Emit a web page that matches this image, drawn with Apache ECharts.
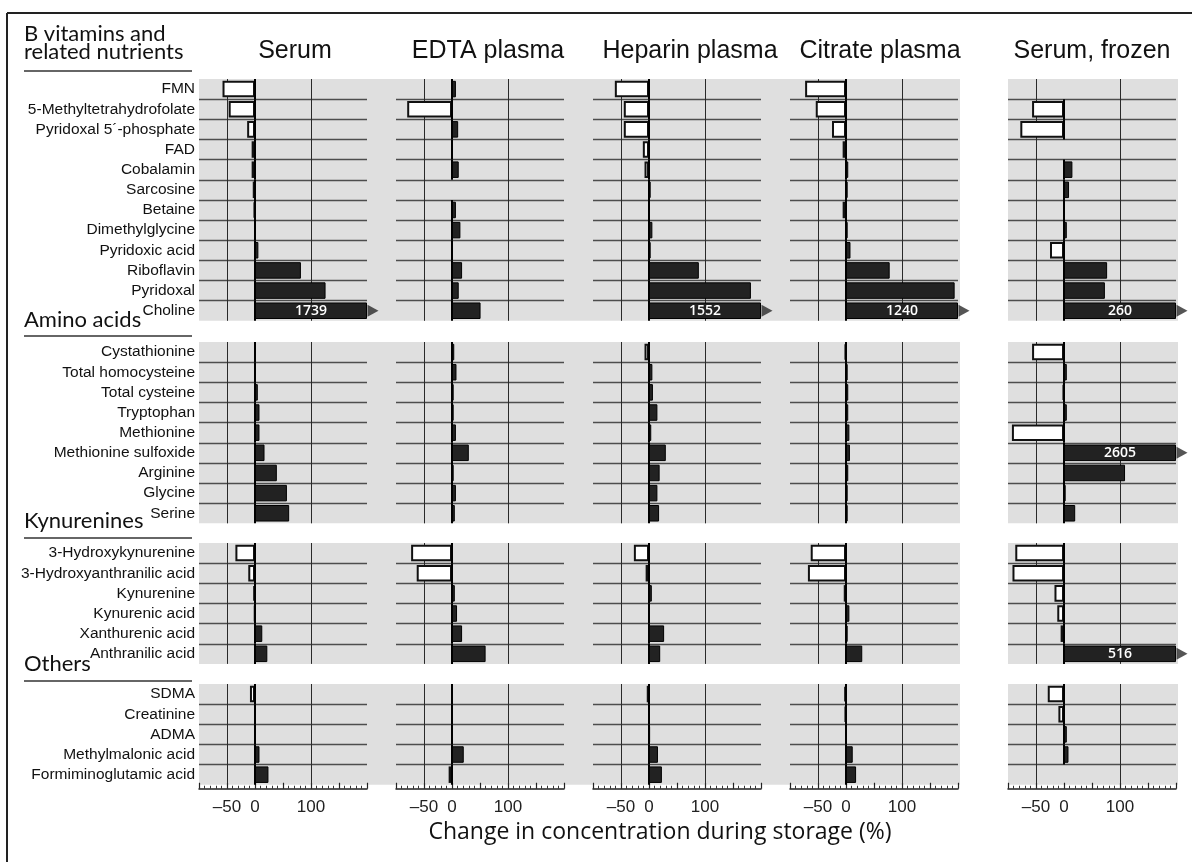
<!DOCTYPE html>
<html><head><meta charset="utf-8">
<script src="https://cdn.jsdelivr.net/npm/echarts@6/dist/echarts.min.js"></script>
<style>html,body{margin:0;padding:0;background:#fff}#c{width:1192px;height:862px}</style>
</head><body><div id="c"></div>
<script>
// ---------- data ----------
const columnTitles = ['Serum', 'EDTA plasma', 'Heparin plasma', 'Citrate plasma', 'Serum, frozen'];
const groupTitles = [['B vitamins and', 'related nutrients'], ['Amino acids'], ['Kynurenines'], ['Others']];
const axisTitle = 'Change in concentration during storage (%)';
const xTickLabels = [-50, 0, 100];

const catB = ['FMN', '5-Methyltetrahydrofolate', 'Pyridoxal 5\u00B4-phosphate', 'FAD', 'Cobalamin', 'Sarcosine', 'Betaine', 'Dimethylglycine', 'Pyridoxic acid', 'Riboflavin', 'Pyridoxal', 'Choline'];
const serumB   = [-58, -47, -14, -6, -6, -4, -2, 0.5, 6, 82, 126, 1739];
const edtaB    = [7, -80, 11, 0.5, 12, null, 7, 15, 1, 18, 12, 51];
const heparinB = [-61, -45, -45, -11, -8, 3, 1, 6, 3, 89, 182, 1552];
const citrateB = [-73, -54, -25, -6, 4, 3, -6, 3, 8, 78, 194, 1240];
const frozenB  = [null, -57, -78, null, 15, 9, 1, 5, -25, 77, 73, 260];

const catA = ['Cystathionine', 'Total homocysteine', 'Total cysteine', 'Tryptophan', 'Methionine', 'Methionine sulfoxide', 'Arginine', 'Glycine', 'Serine'];
const serumA   = [0.5, 1, 5, 8, 8, 17, 39, 57, 61];
const edtaA    = [4, 8, 3, 3, 7, 30, 3, 7, 5];
const heparinA = [-8, 6, 7, 15, 4, 30, 19, 15, 18];
const citrateA = [-2, 3, 4, 4, 6, 7, 4, 3, 3];
const frozenA  = [-57, 5, -2, 5, -93, 2605, 109, 3, 20];

const catK = ['3-Hydroxykynurenine', '3-Hydroxyanthranilic acid', 'Kynurenine', 'Kynurenic acid', 'Xanthurenic acid', 'Anthranilic acid'];
const serumK   = [-35, -12, -3, -1, 13, 22];
const edtaK    = [-73, -63, 5, 9, 18, 60];
const heparinK = [-27, -6, 5, 0.5, 27, 20];
const citrateK = [-63, -68, -4, 6, 3, 29];
const frozenK  = [-87, -92, -17, -12, -6, 516];

const catO = ['SDMA', 'Creatinine', 'ADMA', 'Methylmalonic acid', 'Formiminoglutamic acid'];
const serumO   = [-9, 0.5, 0.5, 8, 24];
const edtaO    = [0.5, 0.5, 0.5, 21, -6];
const heparinO = [-4, 0.5, 2, 16, 23];
const citrateO = [-3, -2, 0.5, 12, 18];
const frozenO  = [-29, -10, 5, 8, null];

// ---------- layout ----------
const AX_MIN = -100, AX_MAX = 200;
const colLeft = [199, 396, 593, 790, 1008];
const colW = 168;
const groupTop = [79, 342, 543, 684];
const rowH = 20.15;
const headBase = [[45, 63], [331], [532], [675]];
const headLine = [71, 336, 538, 681];
const titleCenters = [295, 488, 690, 880, 1092];

const groups = [
  { cats: catB, values: [serumB, edtaB, heparinB, citrateB, frozenB] },
  { cats: catA, values: [serumA, edtaA, heparinA, citrateA, frozenA] },
  { cats: catK, values: [serumK, edtaK, heparinK, citrateK, frozenK] },
  { cats: catO, values: [serumO, edtaO, heparinO, citrateO, frozenO] }
];

const grids = [], xAxes = [], yAxes = [], series = [], graphics = [];
const LABEL_FONT = 'Liberation Sans, Arial, sans-serif';
const MYRIAD = 'Lato, Open Sans, sans-serif';
const WIDE = 'Open Sans, Noto Sans, sans-serif';

groups.forEach((g, gi) => {
  const n = g.cats.length;
  const isLast = gi === groups.length - 1;
  const h = n * rowH;
  // gray backgrounds
  graphics.push({ type: 'rect', z: -10, shape: { x: colLeft[0], y: groupTop[gi], width: colLeft[3] + colW + 2 - colLeft[0], height: h }, style: { fill: '#dfdfdf' } });
  graphics.push({ type: 'rect', z: -10, shape: { x: colLeft[4], y: groupTop[gi], width: colW + 2, height: h }, style: { fill: '#dfdfdf' } });
  g.values.forEach((vals, ci) => {
    const idx = grids.length;
    grids.push({ left: colLeft[ci], top: groupTop[gi], width: colW, height: h, containLabel: false, outerBoundsMode: 'none', show: false });
    xAxes.push({
      type: 'value', gridIndex: idx, min: AX_MIN, max: AX_MAX, interval: 50,
      show: isLast, offset: 4,
      axisLine: { show: true, lineStyle: { color: '#222', width: 1.5 } },
      axisTick: { show: true, inside: true, length: 6, lineStyle: { color: '#222', width: 1.2 } },
      minorTick: { show: true, splitNumber: 5, length: 3, lineStyle: { color: '#333', width: 1 } },
      axisLabel: {
        show: true, margin: 10, fontSize: 17, color: '#222', fontFamily: LABEL_FONT,
        formatter: v => xTickLabels.indexOf(v) >= 0 ? String(v).replace('-', '\u2013') : ''
      },
      splitLine: { show: false }
    });
    yAxes.push({
      type: 'category', gridIndex: idx, data: g.cats, inverse: true,
      axisLine: { show: false }, axisTick: { show: false },
      axisLabel: { show: ci === 0, interval: 0, fontSize: 15.5, color: '#111', fontFamily: LABEL_FONT, margin: 4 },
      splitLine: { show: true, interval: 0, showMinLine: false, showMaxLine: false, lineStyle: { color: '#4d4d4d', width: 1.3 } }
    });
    // reference lines at -50 and 100 (behind bars)
    series.push({
      type: 'line', xAxisIndex: idx, yAxisIndex: idx, data: [], z: 1, silent: true,
      markLine: {
        silent: true, z: 1, symbol: ['none', 'none'], label: { show: false },
        lineStyle: { color: '#2a2a2a', width: 1, type: 'solid' },
        data: [{ xAxis: xTickLabels[0] }, { xAxis: xTickLabels[2] }]
      }
    });
    // bars
    series.push({
      type: 'bar', xAxisIndex: idx, yAxisIndex: idx, barWidth: '82%', z: 3, silent: true,
      animation: false,
      data: vals.map(v => {
        if (v === null) return { value: null };
        const clipped = v > AX_MAX;
        return {
          value: Math.min(v, AX_MAX), raw: v,
          itemStyle: v >= 0
            ? { color: '#222', borderColor: '#000', borderWidth: 1 }
            : { color: '#ffffff', borderColor: '#111', borderWidth: 2 },
          label: clipped ? {
            show: true, position: 'inside', color: '#fff', fontSize: 14,
            fontFamily: WIDE, fontWeight: 600, formatter: p => String(p.data.raw)
          } : { show: false }
        };
      })
    });
    // arrows for off-scale values
    const overs = [];
    vals.forEach((v, i) => { if (v !== null && v > AX_MAX) overs.push([AX_MAX, i]); });
    series.push({
      type: 'scatter', xAxisIndex: idx, yAxisIndex: idx, data: overs, clip: false, z: 4,
      symbol: 'triangle', symbolSize: [12, 11], symbolRotate: -90, symbolOffset: [6, 0],
      itemStyle: { color: '#2b2b2b' }, silent: true, animation: false
    });
    // zero line segments for rows with data
    const zeros = [];
    vals.forEach((v, i) => { if (v !== null) zeros.push([0, i]); });
    series.push({
      type: 'custom', xAxisIndex: idx, yAxisIndex: idx, data: zeros, z: 5, silent: true,
      encode: { x: 0, y: 1 }, clip: false, animation: false,
      renderItem: (params, api) => {
        const p = api.coord([api.value(0), api.value(1)]);
        const bh = api.size([0, 1])[1];
        return { type: 'line', shape: { x1: p[0], y1: p[1] - bh / 2, x2: p[0], y2: p[1] + bh / 2 }, style: { stroke: '#000', lineWidth: 2 } };
      }
    });
  });
  // group heading
  groupTitles[gi].forEach((t, li) => {
    graphics.push({ type: 'text', x: 24, y: headBase[gi][li], style: { text: t, font: '22px ' + MYRIAD, fill: '#111', verticalAlign: 'bottom', textBaseline: 'alphabetic' } });
  });
  graphics.push({ type: 'line', shape: { x1: 24, y1: headLine[gi], x2: 192, y2: headLine[gi] }, style: { stroke: '#333', lineWidth: 1.5 } });
});

// column titles
columnTitles.forEach((t, ci) => {
  graphics.push({ type: 'text', x: titleCenters[ci], y: 51, style: { text: t, font: '25px ' + LABEL_FONT, fill: '#111', align: 'center', verticalAlign: 'middle' } });
});
// axis title
graphics.push({ type: 'text', x: 660, y: 832, style: { text: axisTitle, font: '23px ' + WIDE, fill: '#111', align: 'center', verticalAlign: 'middle' } });
// frame
graphics.push({ type: 'line', shape: { x1: 7, y1: 13, x2: 1192, y2: 13 }, style: { stroke: '#222', lineWidth: 2 } });
graphics.push({ type: 'line', shape: { x1: 7, y1: 13, x2: 7, y2: 862 }, style: { stroke: '#222', lineWidth: 2 } });

const chart = echarts.init(document.getElementById('c'), null, { renderer: 'canvas', width: 1192, height: 862 });
chart.setOption({
  animation: false,
  backgroundColor: '#fff',
  grid: grids, xAxis: xAxes, yAxis: yAxes, series: series,
  graphic: { elements: graphics }
});
</script>
</body></html>
